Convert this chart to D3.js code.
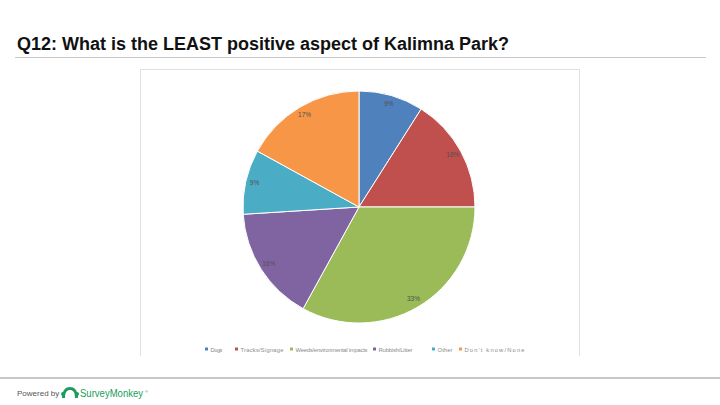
<!DOCTYPE html>
<html><head><meta charset="utf-8">
<script src="https://cdn.jsdelivr.net/npm/d3@7"></script>
<style>html,body{margin:0;padding:0;background:#fff;}svg{display:block;}</style>
</head><body>
<svg id="c" width="720" height="405"></svg>
<script>
const categories = ["Dogs","Tracks/Signage","Weeds/environmental impacts","Rubbish/Litter","Other","Don't know/None"];
const values = [9,16,33,16,9,17];
const labels = ["9%","16%","33%","16%","9%","17%"];
const colors = ["#4f81bd","#c0504d","#9bbb59","#8064a2","#4bacc6","#f79646"];

const svg = d3.select("#c");
const FF = "Liberation Sans, Arial, sans-serif";
// title
svg.append("text").attr("x",17).attr("y",50)
  .attr("font-family",FF).attr("font-weight","bold")
  .attr("font-size",17.5).attr("fill","#111")
  .attr("textLength",492).attr("lengthAdjust","spacingAndGlyphs")
  .text("Q12: What is the LEAST positive aspect of Kalimna Park?");
svg.append("line").attr("x1",15).attr("x2",706).attr("y1",57.5).attr("y2",57.5)
  .attr("stroke","#c8c8c8").attr("stroke-width",1);

// chart frame (bottom open)
svg.append("path").attr("d","M140.5,356 L140.5,69.5 L579.5,69.5 L579.5,356")
  .attr("fill","none").attr("stroke","#e0e0e0").attr("stroke-width",1);

const cx=359, cy=207, R=116;
const pie = d3.pie().sort(null).value(d=>d)(values);
const arc = d3.arc().innerRadius(0).outerRadius(R);
const labArc = d3.arc().innerRadius(107).outerRadius(107);
const g = svg.append("g").attr("transform",`translate(${cx},${cy})`);
g.selectAll("path").data(pie).join("path")
  .attr("d",arc).attr("fill",(d,i)=>colors[i])
  .attr("stroke","#fff").attr("stroke-width",1);
g.selectAll("text").data(pie).join("text")
  .attr("transform",d=>`translate(${labArc.centroid(d)})`)
  .attr("text-anchor","middle").attr("dominant-baseline","middle")
  .attr("font-family",FF).attr("font-size",6.5)
  .attr("fill","#505050").text((d,i)=>labels[i]);

// legend
const legX = [205,235,290,373,432,459];
const legW = [12,43,72,34,15,60];
const lg = svg.append("g");
categories.forEach((c,i)=>{
  lg.append("rect").attr("x",legX[i]).attr("y",347.5).attr("width",3).attr("height",3).attr("fill",colors[i]);
  lg.append("text").attr("x",legX[i]+5.5).attr("y",351.5)
    .attr("font-family",FF).attr("font-size",5.8)
    .attr("textLength",legW[i]).attr("lengthAdjust","spacing")
    .attr("fill","#8a8a8a").text(c);
});

// footer
svg.append("rect").attr("x",0).attr("y",377).attr("width",720).attr("height",2).attr("fill","#c8c8c8");
svg.append("text").attr("x",17).attr("y",396)
  .attr("font-family",FF).attr("font-size",8)
  .attr("fill","#555").text("Powered by");
// logo icon
svg.append("path").attr("d","M62,398 C62,390 66,387 70,387 C74,387 78,390 78,398 L75,398 C75,392 73,390 70,390 C67,390 65,392 65,398 Z")
  .attr("fill","#1a9c5a");
svg.append("circle").attr("cx",63).attr("cy",394).attr("r",2).attr("fill","#1a9c5a");
svg.append("circle").attr("cx",77).attr("cy",394).attr("r",2).attr("fill","#1a9c5a");
svg.append("text").attr("x",80).attr("y",397)
  .attr("font-family",FF).attr("font-size",10)
  .attr("textLength",63).attr("lengthAdjust","spacingAndGlyphs")
  .attr("fill","#1a9c5a").text("SurveyMonkey");
svg.append("text").attr("x",145).attr("y",393)
  .attr("font-family",FF).attr("font-size",4)
  .attr("fill","#1a9c5a").text("®");
</script>
</body></html>
